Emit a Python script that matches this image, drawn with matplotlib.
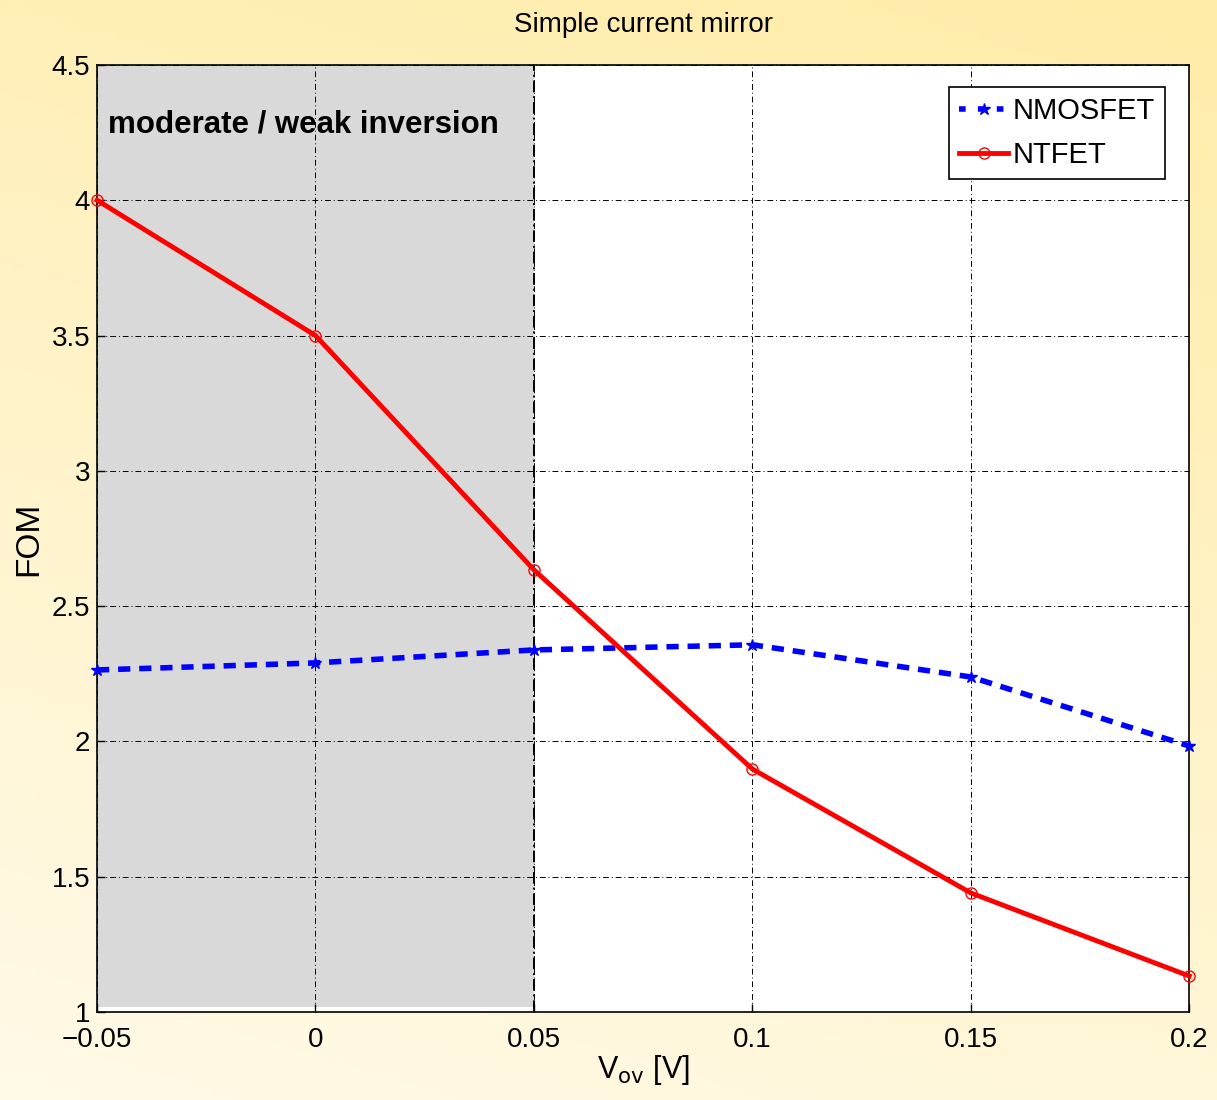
import numpy as np
import matplotlib.pyplot as plt
from matplotlib.lines import Line2D

plt.rcParams['font.family'] = ['Liberation Sans', 'DejaVu Sans']

vov = [-0.05, 0.0, 0.05, 0.1, 0.15, 0.2]
nmosfet = [2.264, 2.29, 2.338, 2.357, 2.238, 1.983]
ntfet = [4.0, 3.5, 2.634, 1.898, 1.44, 1.133]
xticks = [-0.05, 0, 0.05, 0.1, 0.15, 0.2]
xtick_labels = ["\u22120.05", "0", "0.05", "0.1", "0.15", "0.2"]
yticks = [1, 1.5, 2, 2.5, 3, 3.5, 4, 4.5]
ytick_labels = ["1", "1.5", "2", "2.5", "3", "3.5", "4", "4.5"]

fig = plt.figure(figsize=(12.17, 11), dpi=100)

# yellow gradient background
bg = fig.add_axes([0, 0, 1, 1], zorder=-10)
gy, gx = np.mgrid[0:1:200j, 0:1:200j]
t = np.clip(0.75 * gy + 0.25 * gx, 0, 1)
top = np.array([255, 236, 168]) / 255.0
bot = np.array([255, 250, 232]) / 255.0
img = bot[None, None, :] * (1 - t[..., None]) + top[None, None, :] * t[..., None]
bg.imshow(img, origin='lower', extent=[0, 1, 0, 1], aspect='auto')
bg.axis('off')

ax = fig.add_axes([0.0797, 0.080, 0.8975, 0.861])
ax.set_facecolor('white')

# shaded region
ax.fill_between([-0.05, 0.05], 1.02, 4.5, color='#d9d9d9', lw=0, zorder=0)
ax.axvline(0.05, color='black', lw=1.4, ls=(0, (6, 2, 1, 2)), zorder=1)

ax.plot(vov, nmosfet, color='#0000ff', lw=4, ls=(0, (2.2, 1.6)), marker='*',
        markersize=9, markerfacecolor='#0000ff', markeredgecolor='#0000ff',
        label='NMOSFET', zorder=3, clip_on=False)
ax.plot(vov, ntfet, color='#ff0000', lw=3.5, marker='o', markersize=8,
        markerfacecolor='none', markeredgecolor='#ff0000',
        label='NTFET', zorder=4, clip_on=False)

ax.set_xlim(-0.05, 0.2)
ax.set_ylim(1, 4.5)
ax.set_xticks(xticks)
ax.set_xticklabels(xtick_labels)
ax.set_yticks(yticks)
ax.set_yticklabels(ytick_labels)
ax.tick_params(direction='in', length=6, width=1, labelsize=20)
ax.tick_params(axis='x', pad=11)
ax.tick_params(axis='y', pad=5)
ax.grid(True, color='black', lw=0.7, ls=(0, (6, 3, 1, 3)))
for s in ax.spines.values():
    s.set_linewidth(1.2)

ax.text(-0.0475, 4.28, 'moderate / weak inversion', fontsize=22.5,
        fontweight='bold', ha='left', va='center')

ax.set_title('Simple current mirror', fontsize=20, pad=24)
ax.set_xlabel('V$_{\\mathrm{ov}}$ [V]', fontsize=22, labelpad=0)
ax.set_ylabel('FOM', fontsize=24, labelpad=5)

handles = [
    Line2D([], [], color='#0000ff', lw=4, ls=(0, (1.2, 2.2)), marker='*',
           markersize=9),
    Line2D([], [], color='#ff0000', lw=3.5, marker='o', markersize=8,
           markerfacecolor='none'),
]
leg = ax.legend(handles, ['NMOSFET', 'NTFET'], loc='upper right',
                bbox_to_anchor=(0.978, 0.977), fontsize=21, fancybox=False,
                framealpha=1, edgecolor='black', handlelength=1.7,
                handletextpad=0.15, borderpad=0.35, labelspacing=0.55,
                borderaxespad=0)
leg.get_frame().set_linewidth(1.2)

fig.savefig('out.png', dpi=100)
